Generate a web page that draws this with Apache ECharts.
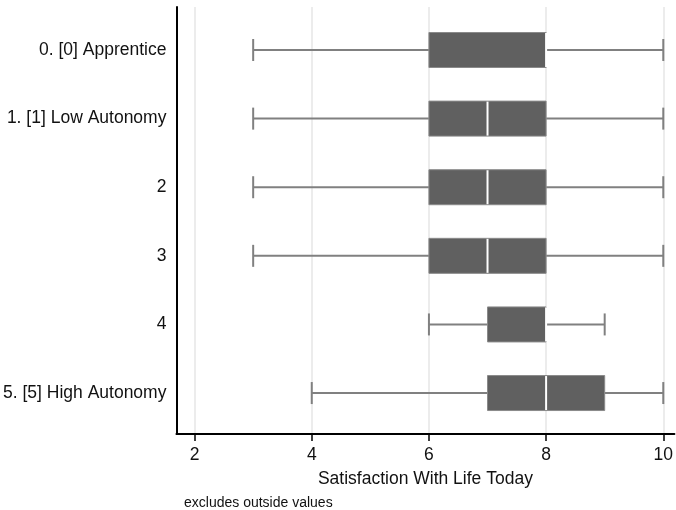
<!DOCTYPE html>
<html>
<head>
<meta charset="utf-8">
<script src="https://cdn.jsdelivr.net/npm/echarts@6/dist/echarts.min.js"></script>
<style>
  html, body { margin: 0; padding: 0; background: #fff; }
  #chart { width: 676px; height: 510px; }
</style>
</head>
<body>
<div id="chart"></div>
<script>
// Groups of job autonomy
const categories = [
  '0. [0] Apprentice',
  '1. [1] Low Autonomy',
  '2',
  '3',
  '4',
  '5. [5] High Autonomy'
];
// Five-number summaries per group (lower whisker, Q1, median, Q3, upper whisker)
const lowerWhisker = [3, 3, 3, 3, 6, 4];
const quartile1    = [6, 6, 6, 6, 7, 7];
const medians      = [8, 7, 7, 7, 8, 8];
const quartile3    = [8, 8, 8, 8, 8, 9];
const upperWhisker = [10, 10, 10, 10, 9, 10];
const xTicks = [2, 4, 6, 8, 10];

const rows = categories.map((c, i) =>
  [i, lowerWhisker[i], quartile1[i], medians[i], quartile3[i], upperWhisker[i]]);

const FONT = '"Liberation Sans", Arial, Helvetica, sans-serif';
const BOX_H = 35, CAP_H = 22;

function renderBox(params, api) {
  const i = api.value(0);
  const pMin = api.coord([api.value(1), i]);
  const pQ1  = api.coord([api.value(2), i]);
  const pMed = api.coord([api.value(3), i]);
  const pQ3  = api.coord([api.value(4), i]);
  const pMax = api.coord([api.value(5), i]);
  const y = pMin[1];
  const whisker = { stroke: '#808080', lineWidth: 2 };
  return {
    type: 'group',
    children: [
      { type: 'line', shape: { x1: pMin[0], y1: y, x2: pQ1[0], y2: y }, style: whisker },
      { type: 'line', shape: { x1: pQ3[0], y1: y, x2: pMax[0], y2: y }, style: whisker },
      { type: 'line', shape: { x1: pMin[0], y1: y - CAP_H / 2, x2: pMin[0], y2: y + CAP_H / 2 }, style: whisker },
      { type: 'line', shape: { x1: pMax[0], y1: y - CAP_H / 2, x2: pMax[0], y2: y + CAP_H / 2 }, style: whisker },
      { type: 'rect',
        shape: { x: pQ1[0], y: y - BOX_H / 2, width: pQ3[0] - pQ1[0], height: BOX_H },
        style: { fill: '#606060', stroke: '#8a8a8a', lineWidth: 1 } },
      { type: 'line',
        shape: { x1: pMed[0], y1: y - BOX_H / 2 + 0.5, x2: pMed[0], y2: y + BOX_H / 2 - 0.5 },
        style: { stroke: '#ffffff', lineWidth: 2 } }
    ]
  };
}

const chart = echarts.init(document.getElementById('chart'), null, { renderer: 'canvas' });
chart.setOption({
  animation: false,
  backgroundColor: '#ffffff',
  title: {
    text: 'excludes outside values',
    left: 179,
    top: 491,
    textStyle: { fontFamily: FONT, fontSize: 14, fontWeight: 'normal', color: '#111' }
  },
  grid: { left: 176, right: 0, top: 7, bottom: 76 },
  xAxis: {
    type: 'value',
    min: 1.69,
    max: 10.19,
    name: 'Satisfaction With Life Today',
    nameLocation: 'middle',
    nameGap: 36,
    nameTextStyle: { fontFamily: FONT, fontSize: 17.5, color: '#111' },
    axisLine: { show: true, onZero: false, lineStyle: { color: '#000', width: 2 } },
    axisTick: { show: true, customValues: xTicks, length: 7, lineStyle: { color: '#000', width: 1.5 } },
    axisLabel: { customValues: xTicks, fontFamily: FONT, fontSize: 17.5, color: '#111', margin: 12 },
    splitLine: { show: true, lineStyle: { color: '#e6e6e6', width: 1.5 } }
  },
  yAxis: {
    type: 'value',
    inverse: true,
    min: -0.627,
    max: 5.597,
    axisLine: { show: true, onZero: false, lineStyle: { color: '#000', width: 2 } },
    axisTick: { show: false, customValues: [0, 1, 2, 3, 4, 5] },
    axisLabel: {
      customValues: [0, 1, 2, 3, 4, 5],
      formatter: v => categories[Math.round(v)],
      fontFamily: FONT, fontSize: 17.5, color: '#111', margin: 10
    },
    splitLine: { show: false }
  },
  series: [{
    type: 'custom',
    renderItem: renderBox,
    encode: { y: 0, x: [1, 2, 3, 4, 5] },
    data: rows,
    clip: false
  }]
});
</script>
</body>
</html>
